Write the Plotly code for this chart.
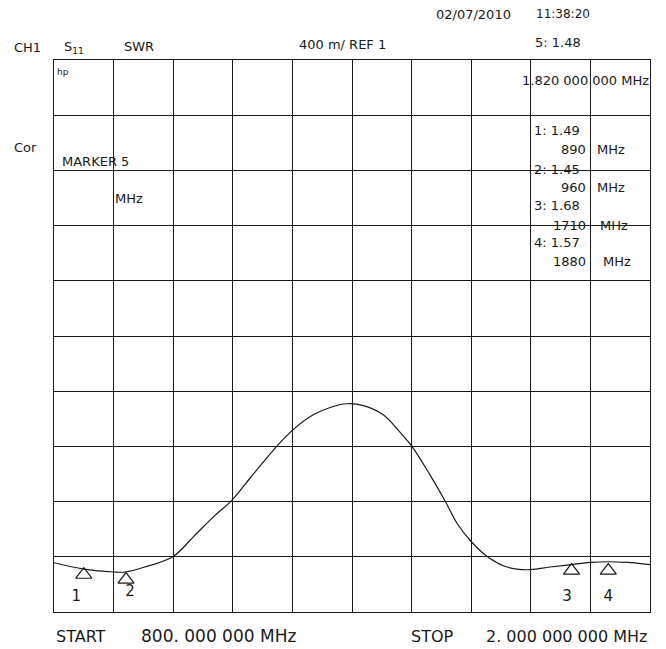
import plotly.graph_objects as go

# ---- data ----
freq_mhz = [800, 860, 920, 944, 981, 1040, 1082, 1122, 1159, 1195, 1248,
            1281, 1322, 1356, 1390, 1423, 1463, 1497, 1521, 1557, 1588, 1611, 1640, 1672,
            1712, 1752, 1799, 1840, 1880, 1914, 1954, 2000]
swr = [1.357, 1.311, 1.290, 1.290, 1.324, 1.403, 1.550, 1.693, 1.813,
       1.971, 2.199, 2.320, 2.429, 2.482, 2.509, 2.496, 2.429, 2.301, 2.199, 1.994, 1.801,
       1.645, 1.511, 1.403, 1.326, 1.306, 1.326, 1.343, 1.359, 1.364, 1.359, 1.343]

marker_ids = ["1", "2", "3", "4"]
marker_values = ["1.49", "1.45", "1.68", "1.57"]
marker_freqs = ["890", "960", "1710", "1880"]
marker_plot_freq = [860, 945, 1842, 1916]     # where the triangles are drawn
marker_plot_swr = [1.27, 1.235, 1.30, 1.30]
marker_label_swr = [1.11, 1.14, 1.11, 1.11]
marker_label_freq = [845, 953, 1833, 1916]

start_mhz = 800
stop_mhz = 2000
ref_value = 1
scale_per_div = 0.4
n_div = 10

FONT = "DejaVu Sans"
INK = "#1a1a1a"

fig = go.Figure()
fig.add_trace(go.Scatter(x=freq_mhz, y=swr, mode="lines",
                         line=dict(color=INK, width=1.2, shape="spline", smoothing=1.0),
                         hoverinfo="skip"))
fig.add_trace(go.Scatter(x=marker_plot_freq, y=marker_plot_swr, mode="markers",
                         marker=dict(symbol="triangle-up-open", size=14, color=INK, line=dict(width=1.2)),
                         hoverinfo="skip"))
fig.add_trace(go.Scatter(x=marker_label_freq, y=marker_label_swr, mode="text", text=marker_ids,
                         textfont=dict(family=FONT, size=15, color=INK), hoverinfo="skip"))

# ---- layout geometry (page has an 8px body margin) ----
OFF = 8
W, H = 658, 641
L, R, T, B = 46, 16, 52, 37
PW, PH = W - L - R, H - T - B


def px(x):
    return (x - OFF - L) / PW


def py(y):
    return (H - B - (y - OFF)) / PH


ann = []


def txt(x, y, s, size=13, anchor="left"):
    ann.append(dict(x=px(x), y=py(y), xref="paper", yref="paper", text=s, showarrow=False,
                    xanchor=anchor, yanchor="middle", font=dict(family=FONT, size=size, color=INK)))


txt(434, 14, "02/07/2010", 13)
txt(534, 14, "11:38:20", 12)
txt(12, 47, "CH1", 13)
txt(62, 47, "S<sub>11</sub>", 13)
txt(122, 46, "SWR", 13)
txt(297, 45, f"400 m/ REF {ref_value}", 13)
txt(533, 42, "5: 1.48", 13)
txt(55, 72, "hp", 9)
txt(12, 147, "Cor", 13)
txt(60, 161, "MARKER 5", 13)
txt(113, 198, "MHz", 13)
txt(520, 81, "1.820 000 000 MHz", 13)

list_y = [(130, 150), (169, 187), (206, 225), (242, 262)]
mhz_x = [595, 595, 598, 601]
for i in range(4):
    yv, yf = list_y[i]
    txt(532, yv, f"{marker_ids[i]}: {marker_values[i]}", 13)
    txt(588, yf, marker_freqs[i], 13, anchor="right")
    txt(mhz_x[i], yf, "MHz", 13)

txt(54, 636, "START", 16)
txt(139, 636, f"{start_mhz}. 000 000 MHz", 17)
txt(409, 636, "STOP", 16)
txt(484, 636, f"{stop_mhz // 1000}. 000 000 000 MHz", 16)

fig.update_layout(
    width=W, height=H,
    margin=dict(l=L, r=R, t=T, b=B),
    paper_bgcolor="white", plot_bgcolor="white",
    showlegend=False,
    annotations=ann,
    xaxis=dict(range=[start_mhz, stop_mhz], tick0=start_mhz, dtick=(stop_mhz - start_mhz) / n_div,
               showgrid=True, gridcolor=INK, gridwidth=1.2, showticklabels=False, ticks="",
               zeroline=False, showline=True, linecolor=INK, linewidth=1.3, mirror=True),
    yaxis=dict(range=[ref_value, ref_value + scale_per_div * n_div], tick0=ref_value, dtick=scale_per_div,
               showgrid=True, gridcolor=INK, gridwidth=1.2, showticklabels=False, ticks="",
               zeroline=False, showline=True, linecolor=INK, linewidth=1.3, mirror=True),
)

fig.write_html("out.html")
